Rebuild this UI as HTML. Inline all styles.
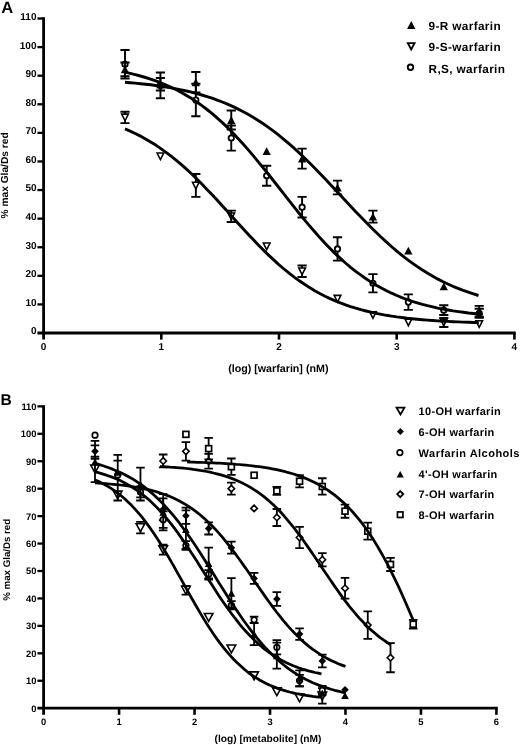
<!DOCTYPE html>
<html><head><meta charset="utf-8"><title>Figure</title>
<style>html,body{margin:0;padding:0;background:#fff;}svg{display:block;}text{font-family:"Liberation Sans",sans-serif;font-weight:bold;fill:#000;text-rendering:geometricPrecision;}</style></head><body>
<svg width="520" height="745" viewBox="0 0 520 745" style="will-change:transform">
<defs><filter id="soft" x="0" y="0" width="520" height="745" filterUnits="userSpaceOnUse"><feGaussianBlur stdDeviation="0.38"/></filter></defs>
<rect width="520" height="745" fill="#fff"/>
<g filter="url(#soft)">
<line x1="43.60" y1="17.36" x2="43.60" y2="339.60" stroke="#000" stroke-width="2.8"/>
<line x1="37.40" y1="333.00" x2="515.75" y2="333.00" stroke="#000" stroke-width="2.8"/>
<text x="36.50" y="334.40" text-anchor="end" style="font-size:10.0px">0</text>
<line x1="37.40" y1="304.41" x2="43.60" y2="304.41" stroke="#000" stroke-width="2.3"/>
<text x="36.50" y="305.81" text-anchor="end" style="font-size:10.0px">10</text>
<line x1="37.40" y1="275.82" x2="43.60" y2="275.82" stroke="#000" stroke-width="2.3"/>
<text x="36.50" y="277.22" text-anchor="end" style="font-size:10.0px">20</text>
<line x1="37.40" y1="247.23" x2="43.60" y2="247.23" stroke="#000" stroke-width="2.3"/>
<text x="36.50" y="248.63" text-anchor="end" style="font-size:10.0px">30</text>
<line x1="37.40" y1="218.64" x2="43.60" y2="218.64" stroke="#000" stroke-width="2.3"/>
<text x="36.50" y="220.04" text-anchor="end" style="font-size:10.0px">40</text>
<line x1="37.40" y1="190.05" x2="43.60" y2="190.05" stroke="#000" stroke-width="2.3"/>
<text x="36.50" y="191.45" text-anchor="end" style="font-size:10.0px">50</text>
<line x1="37.40" y1="161.46" x2="43.60" y2="161.46" stroke="#000" stroke-width="2.3"/>
<text x="36.50" y="162.86" text-anchor="end" style="font-size:10.0px">60</text>
<line x1="37.40" y1="132.87" x2="43.60" y2="132.87" stroke="#000" stroke-width="2.3"/>
<text x="36.50" y="134.27" text-anchor="end" style="font-size:10.0px">70</text>
<line x1="37.40" y1="104.28" x2="43.60" y2="104.28" stroke="#000" stroke-width="2.3"/>
<text x="36.50" y="105.68" text-anchor="end" style="font-size:10.0px">80</text>
<line x1="37.40" y1="75.69" x2="43.60" y2="75.69" stroke="#000" stroke-width="2.3"/>
<text x="36.50" y="77.09" text-anchor="end" style="font-size:10.0px">90</text>
<line x1="37.40" y1="47.10" x2="43.60" y2="47.10" stroke="#000" stroke-width="2.3"/>
<text x="36.50" y="48.50" text-anchor="end" style="font-size:10.0px">100</text>
<line x1="37.40" y1="18.51" x2="43.60" y2="18.51" stroke="#000" stroke-width="2.3"/>
<text x="36.50" y="19.91" text-anchor="end" style="font-size:10.0px">110</text>
<text x="43.60" y="350.00" text-anchor="middle" style="font-size:10.0px">0</text>
<line x1="161.30" y1="333.00" x2="161.30" y2="339.60" stroke="#000" stroke-width="2.5999999999999996"/>
<text x="161.30" y="350.00" text-anchor="middle" style="font-size:10.0px">1</text>
<line x1="279.00" y1="333.00" x2="279.00" y2="339.60" stroke="#000" stroke-width="2.5999999999999996"/>
<text x="279.00" y="350.00" text-anchor="middle" style="font-size:10.0px">2</text>
<line x1="396.70" y1="333.00" x2="396.70" y2="339.60" stroke="#000" stroke-width="2.5999999999999996"/>
<text x="396.70" y="350.00" text-anchor="middle" style="font-size:10.0px">3</text>
<line x1="514.40" y1="333.00" x2="514.40" y2="339.60" stroke="#000" stroke-width="2.5999999999999996"/>
<text x="514.40" y="350.00" text-anchor="middle" style="font-size:10.0px">4</text>
<text x="278.30" y="372.20" text-anchor="middle" style="font-size:10.7px">(log) [warfarin] (nM)</text>
<text transform="translate(8.3,175.40) rotate(-90)" text-anchor="middle" style="font-size:10.2px">% max Gla/Ds red</text>
<text x="1.3" y="13.10" style="font-size:16.5px">A</text>
<path d="M125.00,49.96V78.55M120.40,49.96H129.60M120.40,78.55H129.60" stroke="#000" stroke-width="1.9" fill="none"/>
<path d="M160.42,72.55V98.28M155.82,72.55H165.02M155.82,98.28H165.02" stroke="#000" stroke-width="1.9" fill="none"/>
<path d="M195.84,83.70V116.29M191.24,83.70H200.44M191.24,116.29H200.44" stroke="#000" stroke-width="1.9" fill="none"/>
<path d="M231.26,125.44V150.60M226.66,125.44H235.86M226.66,150.60H235.86" stroke="#000" stroke-width="1.9" fill="none"/>
<path d="M266.68,165.75V185.76M262.08,165.75H271.28M262.08,185.76H271.28" stroke="#000" stroke-width="1.9" fill="none"/>
<path d="M302.10,196.91V217.50M297.50,196.91H306.70M297.50,217.50H306.70" stroke="#000" stroke-width="1.9" fill="none"/>
<path d="M337.52,237.22V260.67M332.92,237.22H342.12M332.92,260.67H342.12" stroke="#000" stroke-width="1.9" fill="none"/>
<path d="M372.94,274.10V292.40M368.34,274.10H377.54M368.34,292.40H377.54" stroke="#000" stroke-width="1.9" fill="none"/>
<path d="M408.36,294.40V309.84M403.76,294.40H412.96M403.76,309.84H412.96" stroke="#000" stroke-width="1.9" fill="none"/>
<path d="M443.78,305.27V314.99M439.18,305.27H448.38M439.18,314.99H448.38" stroke="#000" stroke-width="1.9" fill="none"/>
<path d="M479.20,308.70V317.85M474.60,308.70H483.80M474.60,317.85H483.80" stroke="#000" stroke-width="1.9" fill="none"/>
<circle cx="125.00" cy="64.25" r="2.70" fill="#fff" stroke="#000" stroke-width="1.8"/>
<circle cx="160.42" cy="85.41" r="2.70" fill="#fff" stroke="#000" stroke-width="1.8"/>
<circle cx="195.84" cy="99.99" r="2.70" fill="#fff" stroke="#000" stroke-width="1.8"/>
<circle cx="231.26" cy="138.02" r="2.70" fill="#fff" stroke="#000" stroke-width="1.8"/>
<circle cx="266.68" cy="175.75" r="2.70" fill="#fff" stroke="#000" stroke-width="1.8"/>
<circle cx="302.10" cy="207.20" r="2.70" fill="#fff" stroke="#000" stroke-width="1.8"/>
<circle cx="337.52" cy="248.95" r="2.70" fill="#fff" stroke="#000" stroke-width="1.8"/>
<circle cx="372.94" cy="283.25" r="2.70" fill="#fff" stroke="#000" stroke-width="1.8"/>
<circle cx="408.36" cy="302.12" r="2.70" fill="#fff" stroke="#000" stroke-width="1.8"/>
<circle cx="443.78" cy="310.13" r="2.70" fill="#fff" stroke="#000" stroke-width="1.8"/>
<circle cx="479.20" cy="313.27" r="2.70" fill="#fff" stroke="#000" stroke-width="1.8"/>
<path d="M125.00,111.71V123.15M120.40,111.71H129.60M120.40,123.15H129.60" stroke="#000" stroke-width="1.9" fill="none"/>
<path d="M195.84,174.04V196.91M191.24,174.04H200.44M191.24,196.91H200.44" stroke="#000" stroke-width="1.9" fill="none"/>
<path d="M231.26,210.63V222.07M226.66,210.63H235.86M226.66,222.07H235.86" stroke="#000" stroke-width="1.9" fill="none"/>
<path d="M302.10,265.53V276.96M297.50,265.53H306.70M297.50,276.96H306.70" stroke="#000" stroke-width="1.9" fill="none"/>
<path d="M443.78,317.85V327.00M439.18,317.85H448.38M439.18,327.00H448.38" stroke="#000" stroke-width="1.9" fill="none"/>
<polygon points="121.65,114.13 128.35,114.13 125.00,120.73" fill="#fff" stroke="#000" stroke-width="1.55"/>
<polygon points="157.07,153.01 163.77,153.01 160.42,159.61" fill="#fff" stroke="#000" stroke-width="1.55"/>
<polygon points="192.49,182.18 199.19,182.18 195.84,188.78" fill="#fff" stroke="#000" stroke-width="1.55"/>
<polygon points="227.91,213.05 234.61,213.05 231.26,219.65" fill="#fff" stroke="#000" stroke-width="1.55"/>
<polygon points="263.33,243.07 270.03,243.07 266.68,249.67" fill="#fff" stroke="#000" stroke-width="1.55"/>
<polygon points="298.75,267.95 305.45,267.95 302.10,274.55" fill="#fff" stroke="#000" stroke-width="1.55"/>
<polygon points="334.17,295.39 340.87,295.39 337.52,301.99" fill="#fff" stroke="#000" stroke-width="1.55"/>
<polygon points="369.59,311.69 376.29,311.69 372.94,318.29" fill="#fff" stroke="#000" stroke-width="1.55"/>
<polygon points="405.01,319.12 411.71,319.12 408.36,325.72" fill="#fff" stroke="#000" stroke-width="1.55"/>
<polygon points="440.43,319.12 447.13,319.12 443.78,325.72" fill="#fff" stroke="#000" stroke-width="1.55"/>
<polygon points="475.85,320.69 482.55,320.69 479.20,327.29" fill="#fff" stroke="#000" stroke-width="1.55"/>
<path d="M125.00,62.54V76.26M120.40,62.54H129.60M120.40,76.26H129.60" stroke="#000" stroke-width="1.9" fill="none"/>
<path d="M160.42,77.98V90.56M155.82,77.98H165.02M155.82,90.56H165.02" stroke="#000" stroke-width="1.9" fill="none"/>
<path d="M195.84,71.97V92.56M191.24,71.97H200.44M191.24,92.56H200.44" stroke="#000" stroke-width="1.9" fill="none"/>
<path d="M231.26,110.57V129.44M226.66,110.57H235.86M226.66,129.44H235.86" stroke="#000" stroke-width="1.9" fill="none"/>
<path d="M302.10,148.59V168.61M297.50,148.59H306.70M297.50,168.61H306.70" stroke="#000" stroke-width="1.9" fill="none"/>
<path d="M337.52,180.62V194.34M332.92,180.62H342.12M332.92,194.34H342.12" stroke="#000" stroke-width="1.9" fill="none"/>
<path d="M372.94,210.63V222.64M368.34,210.63H377.54M368.34,222.64H377.54" stroke="#000" stroke-width="1.9" fill="none"/>
<path d="M479.20,305.84V316.70M474.60,305.84H483.80M474.60,316.70H483.80" stroke="#000" stroke-width="1.9" fill="none"/>
<polygon points="120.85,73.35 129.15,73.35 125.00,65.45" fill="#000"/>
<polygon points="156.27,88.22 164.57,88.22 160.42,80.32" fill="#000"/>
<polygon points="191.69,86.22 199.99,86.22 195.84,78.32" fill="#000"/>
<polygon points="227.11,123.95 235.41,123.95 231.26,116.05" fill="#000"/>
<polygon points="262.53,155.12 270.83,155.12 266.68,147.22" fill="#000"/>
<polygon points="297.95,162.55 306.25,162.55 302.10,154.65" fill="#000"/>
<polygon points="333.37,191.43 341.67,191.43 337.52,183.53" fill="#000"/>
<polygon points="368.79,220.59 377.09,220.59 372.94,212.69" fill="#000"/>
<polygon points="404.21,254.61 412.51,254.61 408.36,246.71" fill="#000"/>
<polygon points="439.63,290.35 447.93,290.35 443.78,282.45" fill="#000"/>
<polygon points="475.05,315.22 483.35,315.22 479.20,307.32" fill="#000"/>
<polyline points="125.0,82.2 130.1,82.7 135.2,83.1 140.4,83.7 145.5,84.2 150.6,84.8 155.7,85.5 160.9,86.2 166.0,87.0 171.1,87.9 176.2,88.9 181.4,89.9 186.5,91.0 191.6,92.2 196.7,93.6 201.8,95.0 207.0,96.6 212.1,98.2 217.2,100.1 222.3,102.0 227.5,104.2 232.6,106.4 237.7,108.9 242.8,111.5 248.0,114.3 253.1,117.3 258.2,120.5 263.3,123.8 268.4,127.4 273.6,131.2 278.7,135.2 283.8,139.3 288.9,143.7 294.1,148.2 299.2,152.9 304.3,157.8 309.4,162.8 314.6,168.0 319.7,173.2 324.8,178.6 329.9,184.0 335.1,189.5 340.2,195.0 345.3,200.5 350.4,206.0 355.5,211.5 360.7,216.8 365.8,222.1 370.9,227.3 376.0,232.3 381.2,237.2 386.3,241.9 391.4,246.5 396.5,250.9 401.7,255.1 406.8,259.1 411.9,262.8 417.0,266.4 422.1,269.8 427.3,273.0 432.4,276.0 437.5,278.9 442.6,281.5 447.8,284.0 452.9,286.3 458.0,288.4 463.1,290.4 468.3,292.2 473.4,293.9 478.5,295.5" fill="none" stroke="#000" stroke-width="2.9" stroke-linejoin="round"/>
<polyline points="125.0,72.2 130.1,73.3 135.3,74.6 140.4,76.0 145.5,77.5 150.6,79.1 155.8,80.9 160.9,82.9 166.0,85.0 171.1,87.3 176.3,89.8 181.4,92.5 186.5,95.5 191.7,98.6 196.8,102.0 201.9,105.7 207.0,109.5 212.2,113.7 217.3,118.1 222.4,122.7 227.6,127.6 232.7,132.8 237.8,138.2 242.9,143.8 248.1,149.6 253.2,155.6 258.3,161.8 263.4,168.1 268.6,174.5 273.7,181.0 278.8,187.5 284.0,194.1 289.1,200.6 294.2,207.1 299.3,213.5 304.5,219.8 309.6,225.9 314.7,231.8 319.8,237.6 325.0,243.2 330.1,248.5 335.2,253.6 340.4,258.4 345.5,263.0 350.6,267.3 355.7,271.4 360.9,275.2 366.0,278.8 371.1,282.1 376.2,285.2 381.4,288.1 386.5,290.8 391.6,293.2 396.8,295.5 401.9,297.6 407.0,299.5 412.1,301.3 417.3,302.9 422.4,304.4 427.5,305.7 432.7,306.9 437.8,308.1 442.9,309.1 448.0,310.0 453.2,310.9 458.3,311.6 463.4,312.3 468.5,313.0 473.7,313.5 478.8,314.1" fill="none" stroke="#000" stroke-width="2.9" stroke-linejoin="round"/>
<polyline points="125.0,128.9 130.1,131.1 135.3,133.5 140.4,136.1 145.5,138.9 150.6,141.9 155.8,145.1 160.9,148.6 166.0,152.3 171.1,156.2 176.3,160.3 181.4,164.6 186.5,169.2 191.7,174.0 196.8,178.9 201.9,184.1 207.0,189.4 212.2,194.8 217.3,200.3 222.4,205.9 227.6,211.6 232.7,217.3 237.8,223.0 242.9,228.6 248.1,234.2 253.2,239.6 258.3,244.9 263.4,250.1 268.6,255.1 273.7,259.9 278.8,264.6 284.0,269.0 289.1,273.2 294.2,277.1 299.3,280.8 304.5,284.3 309.6,287.6 314.7,290.7 319.8,293.5 325.0,296.2 330.1,298.6 335.2,300.8 340.4,302.9 345.5,304.8 350.6,306.6 355.7,308.2 360.9,309.7 366.0,311.0 371.1,312.2 376.2,313.3 381.4,314.3 386.5,315.3 391.6,316.1 396.8,316.9 401.9,317.5 407.0,318.2 412.1,318.7 417.3,319.2 422.4,319.7 427.5,320.1 432.7,320.5 437.8,320.9 442.9,321.2 448.0,321.4 453.2,321.7 458.3,321.9 463.4,322.1 468.5,322.3 473.7,322.5 478.8,322.6" fill="none" stroke="#000" stroke-width="2.9" stroke-linejoin="round"/>
<polygon points="407.10,28.95 415.40,28.95 411.25,21.05" fill="#000"/>
<text x="428.60" y="29.50" style="font-size:11.8px;letter-spacing:0.35px">9-R warfarin</text>
<polygon points="407.90,43.15 414.50,43.15 411.20,49.45" fill="#fff" stroke="#000" stroke-width="1.9"/>
<text x="428.60" y="51.00" style="font-size:11.8px;letter-spacing:0.35px">9-S-warfarin</text>
<circle cx="410.50" cy="67.30" r="2.75" fill="#fff" stroke="#000" stroke-width="1.9"/>
<text x="428.60" y="72.50" style="font-size:11.8px;letter-spacing:0.35px">R,S, warfarin</text>
<line x1="43.60" y1="405.21" x2="43.60" y2="714.80" stroke="#000" stroke-width="2.8"/>
<line x1="37.40" y1="708.20" x2="497.77" y2="708.20" stroke="#000" stroke-width="2.8"/>
<text x="36.50" y="711.60" text-anchor="end" style="font-size:9.4px">0</text>
<line x1="37.40" y1="680.76" x2="43.60" y2="680.76" stroke="#000" stroke-width="2.3"/>
<text x="36.50" y="684.16" text-anchor="end" style="font-size:9.4px">10</text>
<line x1="37.40" y1="653.32" x2="43.60" y2="653.32" stroke="#000" stroke-width="2.3"/>
<text x="36.50" y="656.72" text-anchor="end" style="font-size:9.4px">20</text>
<line x1="37.40" y1="625.88" x2="43.60" y2="625.88" stroke="#000" stroke-width="2.3"/>
<text x="36.50" y="629.28" text-anchor="end" style="font-size:9.4px">30</text>
<line x1="37.40" y1="598.44" x2="43.60" y2="598.44" stroke="#000" stroke-width="2.3"/>
<text x="36.50" y="601.84" text-anchor="end" style="font-size:9.4px">40</text>
<line x1="37.40" y1="571.00" x2="43.60" y2="571.00" stroke="#000" stroke-width="2.3"/>
<text x="36.50" y="574.40" text-anchor="end" style="font-size:9.4px">50</text>
<line x1="37.40" y1="543.56" x2="43.60" y2="543.56" stroke="#000" stroke-width="2.3"/>
<text x="36.50" y="546.96" text-anchor="end" style="font-size:9.4px">60</text>
<line x1="37.40" y1="516.12" x2="43.60" y2="516.12" stroke="#000" stroke-width="2.3"/>
<text x="36.50" y="519.52" text-anchor="end" style="font-size:9.4px">70</text>
<line x1="37.40" y1="488.68" x2="43.60" y2="488.68" stroke="#000" stroke-width="2.3"/>
<text x="36.50" y="492.08" text-anchor="end" style="font-size:9.4px">80</text>
<line x1="37.40" y1="461.24" x2="43.60" y2="461.24" stroke="#000" stroke-width="2.3"/>
<text x="36.50" y="464.64" text-anchor="end" style="font-size:9.4px">90</text>
<line x1="37.40" y1="433.80" x2="43.60" y2="433.80" stroke="#000" stroke-width="2.3"/>
<text x="36.50" y="437.20" text-anchor="end" style="font-size:9.4px">100</text>
<line x1="37.40" y1="406.36" x2="43.60" y2="406.36" stroke="#000" stroke-width="2.3"/>
<text x="36.50" y="409.76" text-anchor="end" style="font-size:9.4px">110</text>
<text x="43.60" y="724.60" text-anchor="middle" style="font-size:9.4px">0</text>
<line x1="119.07" y1="708.20" x2="119.07" y2="714.80" stroke="#000" stroke-width="2.5999999999999996"/>
<text x="119.07" y="724.60" text-anchor="middle" style="font-size:9.4px">1</text>
<line x1="194.54" y1="708.20" x2="194.54" y2="714.80" stroke="#000" stroke-width="2.5999999999999996"/>
<text x="194.54" y="724.60" text-anchor="middle" style="font-size:9.4px">2</text>
<line x1="270.01" y1="708.20" x2="270.01" y2="714.80" stroke="#000" stroke-width="2.5999999999999996"/>
<text x="270.01" y="724.60" text-anchor="middle" style="font-size:9.4px">3</text>
<line x1="345.48" y1="708.20" x2="345.48" y2="714.80" stroke="#000" stroke-width="2.5999999999999996"/>
<text x="345.48" y="724.60" text-anchor="middle" style="font-size:9.4px">4</text>
<line x1="420.95" y1="708.20" x2="420.95" y2="714.80" stroke="#000" stroke-width="2.5999999999999996"/>
<text x="420.95" y="724.60" text-anchor="middle" style="font-size:9.4px">5</text>
<line x1="496.42" y1="708.20" x2="496.42" y2="714.80" stroke="#000" stroke-width="2.5999999999999996"/>
<text x="496.42" y="724.60" text-anchor="middle" style="font-size:9.4px">6</text>
<text x="268.00" y="741.90" text-anchor="middle" style="font-size:10.2px">(log) [metabolite] (nM)</text>
<text transform="translate(9.6,559.80) rotate(-90)" text-anchor="middle" style="font-size:9.7px">% max Gla/Ds red</text>
<text x="0.4" y="404.80" style="font-size:15.6px">B</text>
<path d="M140.46,521.88V533.41M136.16,521.88H144.76M136.16,533.41H144.76" stroke="#000" stroke-width="1.8" fill="none"/>
<path d="M163.19,544.66V554.54M158.89,544.66H167.49M158.89,554.54H167.49" stroke="#000" stroke-width="1.8" fill="none"/>
<path d="M185.92,585.82V594.60M181.62,585.82H190.22M181.62,594.60H190.22" stroke="#000" stroke-width="1.8" fill="none"/>
<path d="M322.30,688.17V703.54M318.00,688.17H326.60M318.00,703.54H326.60" stroke="#000" stroke-width="1.8" fill="none"/>
<polygon points="90.70,465.02 99.30,465.02 95.00,472.82" fill="#fff" stroke="#000" stroke-width="1.6"/>
<polygon points="113.43,491.09 122.03,491.09 117.73,498.89" fill="#fff" stroke="#000" stroke-width="1.6"/>
<polygon points="136.16,523.74 144.76,523.74 140.46,531.54" fill="#fff" stroke="#000" stroke-width="1.6"/>
<polygon points="158.89,545.70 167.49,545.70 163.19,553.50" fill="#fff" stroke="#000" stroke-width="1.6"/>
<polygon points="181.62,586.31 190.22,586.31 185.92,594.11" fill="#fff" stroke="#000" stroke-width="1.6"/>
<polygon points="204.35,613.47 212.95,613.47 208.65,621.27" fill="#fff" stroke="#000" stroke-width="1.6"/>
<polygon points="227.08,645.03 235.68,645.03 231.38,652.83" fill="#fff" stroke="#000" stroke-width="1.6"/>
<polygon points="249.81,671.92 258.41,671.92 254.11,679.72" fill="#fff" stroke="#000" stroke-width="1.6"/>
<polygon points="272.54,687.84 281.14,687.84 276.84,695.64" fill="#fff" stroke="#000" stroke-width="1.6"/>
<polygon points="295.27,694.15 303.87,694.15 299.57,701.95" fill="#fff" stroke="#000" stroke-width="1.6"/>
<polygon points="318.00,691.95 326.60,691.95 322.30,699.75" fill="#fff" stroke="#000" stroke-width="1.6"/>
<path d="M95.00,440.93V482.09M90.70,440.93H99.30M90.70,445.32H99.30M90.70,456.58H99.30M90.70,458.77H99.30M90.70,482.09H99.30" stroke="#000" stroke-width="1.8" fill="none"/>
<path d="M117.73,454.93V500.48M113.43,454.93H122.03M113.43,460.69H122.03M113.43,500.48H122.03" stroke="#000" stroke-width="1.8" fill="none"/>
<path d="M163.19,498.28V520.24M158.89,498.28H167.49M158.89,520.24H167.49" stroke="#000" stroke-width="1.8" fill="none"/>
<path d="M185.92,507.61V523.80M181.62,507.61H190.22M181.62,523.80H190.22" stroke="#000" stroke-width="1.8" fill="none"/>
<path d="M208.65,522.43V534.50M204.35,522.43H212.95M204.35,534.50H212.95" stroke="#000" stroke-width="1.8" fill="none"/>
<path d="M231.38,541.64V553.71M227.08,541.64H235.68M227.08,553.71H235.68" stroke="#000" stroke-width="1.8" fill="none"/>
<path d="M254.11,572.92V583.90M249.81,572.92H258.41M249.81,583.90H258.41" stroke="#000" stroke-width="1.8" fill="none"/>
<path d="M276.84,592.13V605.85M272.54,592.13H281.14M272.54,605.85H281.14" stroke="#000" stroke-width="1.8" fill="none"/>
<path d="M299.57,628.35V639.87M295.27,628.35H303.87M295.27,639.87H303.87" stroke="#000" stroke-width="1.8" fill="none"/>
<path d="M322.30,654.69V667.31M318.00,654.69H326.60M318.00,667.31H326.60" stroke="#000" stroke-width="1.8" fill="none"/>
<polygon points="91.20,451.36 95.00,447.56 98.80,451.36 95.00,455.16" fill="#000"/>
<polygon points="113.93,474.96 117.73,471.16 121.53,474.96 117.73,478.76" fill="#000"/>
<polygon points="136.66,487.31 140.46,483.51 144.26,487.31 140.46,491.11" fill="#000"/>
<polygon points="159.39,509.26 163.19,505.46 166.99,509.26 163.19,513.06" fill="#000"/>
<polygon points="182.12,515.71 185.92,511.91 189.72,515.71 185.92,519.51" fill="#000"/>
<polygon points="204.85,528.47 208.65,524.67 212.45,528.47 208.65,532.27" fill="#000"/>
<polygon points="227.58,547.68 231.38,543.88 235.18,547.68 231.38,551.48" fill="#000"/>
<polygon points="250.31,578.41 254.11,574.61 257.91,578.41 254.11,582.21" fill="#000"/>
<polygon points="273.04,598.99 276.84,595.19 280.64,598.99 276.84,602.79" fill="#000"/>
<polygon points="295.77,634.11 299.57,630.31 303.37,634.11 299.57,637.91" fill="#000"/>
<polygon points="318.50,661.00 322.30,657.20 326.10,661.00 322.30,664.80" fill="#000"/>
<polygon points="341.23,689.82 345.03,686.02 348.83,689.82 345.03,693.62" fill="#000"/>
<path d="M140.46,486.48V497.46M136.16,486.48H144.76M136.16,497.46H144.76" stroke="#000" stroke-width="1.8" fill="none"/>
<path d="M163.19,511.46V527.92M158.89,511.46H167.49M158.89,527.92H167.49" stroke="#000" stroke-width="1.8" fill="none"/>
<path d="M185.92,541.09V549.87M181.62,541.09H190.22M181.62,549.87H190.22" stroke="#000" stroke-width="1.8" fill="none"/>
<path d="M208.65,570.18V578.41M204.35,570.18H212.95M204.35,578.41H212.95" stroke="#000" stroke-width="1.8" fill="none"/>
<path d="M231.38,601.18V609.42M227.08,601.18H235.68M227.08,609.42H235.68" stroke="#000" stroke-width="1.8" fill="none"/>
<path d="M254.11,616.55V623.14M249.81,616.55H258.41M249.81,623.14H258.41" stroke="#000" stroke-width="1.8" fill="none"/>
<path d="M276.84,640.15V654.42M272.54,640.15H281.14M272.54,654.42H281.14" stroke="#000" stroke-width="1.8" fill="none"/>
<path d="M299.57,674.86V686.39M295.27,674.86H303.87M295.27,686.39H303.87" stroke="#000" stroke-width="1.8" fill="none"/>
<path d="M322.30,685.97V694.75M318.00,685.97H326.60M318.00,694.75H326.60" stroke="#000" stroke-width="1.8" fill="none"/>
<circle cx="95.00" cy="435.17" r="2.75" fill="#fff" stroke="#000" stroke-width="1.7"/>
<circle cx="117.73" cy="474.96" r="2.75" fill="#fff" stroke="#000" stroke-width="1.7"/>
<circle cx="140.46" cy="491.97" r="2.75" fill="#fff" stroke="#000" stroke-width="1.7"/>
<circle cx="163.19" cy="519.69" r="2.75" fill="#fff" stroke="#000" stroke-width="1.7"/>
<circle cx="185.92" cy="545.48" r="2.75" fill="#fff" stroke="#000" stroke-width="1.7"/>
<circle cx="208.65" cy="574.29" r="2.75" fill="#fff" stroke="#000" stroke-width="1.7"/>
<circle cx="231.38" cy="605.30" r="2.75" fill="#fff" stroke="#000" stroke-width="1.7"/>
<circle cx="254.11" cy="619.84" r="2.75" fill="#fff" stroke="#000" stroke-width="1.7"/>
<circle cx="276.84" cy="647.28" r="2.75" fill="#fff" stroke="#000" stroke-width="1.7"/>
<circle cx="299.57" cy="680.62" r="2.75" fill="#fff" stroke="#000" stroke-width="1.7"/>
<circle cx="322.30" cy="690.36" r="2.75" fill="#fff" stroke="#000" stroke-width="1.7"/>
<path d="M140.46,467.55V500.48M136.16,467.55H144.76M136.16,500.48H144.76" stroke="#000" stroke-width="1.8" fill="none"/>
<path d="M163.19,494.17V530.39M158.89,494.17H167.49M158.89,530.39H167.49" stroke="#000" stroke-width="1.8" fill="none"/>
<path d="M185.92,510.36V548.77M181.62,510.36H190.22M181.62,548.77H190.22" stroke="#000" stroke-width="1.8" fill="none"/>
<path d="M208.65,547.68V579.51M204.35,547.68H212.95M204.35,579.51H212.95" stroke="#000" stroke-width="1.8" fill="none"/>
<path d="M231.38,578.13V608.32M227.08,578.13H235.68M227.08,608.32H235.68" stroke="#000" stroke-width="1.8" fill="none"/>
<path d="M254.11,623.14V645.09M249.81,623.14H258.41M249.81,645.09H258.41" stroke="#000" stroke-width="1.8" fill="none"/>
<path d="M276.84,642.62V668.69M272.54,642.62H281.14M272.54,668.69H281.14" stroke="#000" stroke-width="1.8" fill="none"/>
<path d="M299.57,670.33V686.25M295.27,670.33H303.87M295.27,686.25H303.87" stroke="#000" stroke-width="1.8" fill="none"/>
<polygon points="91.20,465.29 98.80,465.29 95.00,458.29" fill="#000"/>
<polygon points="113.93,475.72 121.53,475.72 117.73,468.72" fill="#000"/>
<polygon points="136.66,487.52 144.26,487.52 140.46,480.52" fill="#000"/>
<polygon points="159.39,515.78 166.99,515.78 163.19,508.78" fill="#000"/>
<polygon points="182.12,533.07 189.72,533.07 185.92,526.07" fill="#000"/>
<polygon points="204.85,567.09 212.45,567.09 208.65,560.09" fill="#000"/>
<polygon points="227.58,596.73 235.18,596.73 231.38,589.73" fill="#000"/>
<polygon points="250.31,637.61 257.91,637.61 254.11,630.61" fill="#000"/>
<polygon points="273.04,659.15 280.64,659.15 276.84,652.15" fill="#000"/>
<polygon points="295.77,681.79 303.37,681.79 299.57,674.79" fill="#000"/>
<polygon points="318.50,696.61 326.10,696.61 322.30,689.61" fill="#000"/>
<polygon points="341.23,699.08 348.83,699.08 345.03,692.08" fill="#000"/>
<path d="M163.19,454.52V467.41M158.89,454.52H167.49M158.89,467.41H167.49" stroke="#000" stroke-width="1.8" fill="none"/>
<path d="M185.92,442.03V460.69M181.62,442.03H190.22M181.62,460.69H190.22" stroke="#000" stroke-width="1.8" fill="none"/>
<path d="M208.65,453.83V468.65M204.35,453.83H212.95M204.35,468.65H212.95" stroke="#000" stroke-width="1.8" fill="none"/>
<path d="M231.38,482.64V494.72M227.08,482.64H235.68M227.08,494.72H235.68" stroke="#000" stroke-width="1.8" fill="none"/>
<path d="M276.84,508.99V526.00M272.54,508.99H281.14M272.54,526.00H281.14" stroke="#000" stroke-width="1.8" fill="none"/>
<path d="M299.57,526.82V548.22M295.27,526.82H303.87M295.27,548.22H303.87" stroke="#000" stroke-width="1.8" fill="none"/>
<path d="M322.30,553.16V566.34M318.00,553.16H326.60M318.00,566.34H326.60" stroke="#000" stroke-width="1.8" fill="none"/>
<path d="M345.03,577.86V598.71M340.73,577.86H349.33M340.73,598.71H349.33" stroke="#000" stroke-width="1.8" fill="none"/>
<path d="M367.76,611.34V638.78M363.46,611.34H372.06M363.46,638.78H372.06" stroke="#000" stroke-width="1.8" fill="none"/>
<path d="M390.49,643.17V672.25M386.19,643.17H394.79M386.19,672.25H394.79" stroke="#000" stroke-width="1.8" fill="none"/>
<polygon points="159.94,460.97 163.19,457.72 166.44,460.97 163.19,464.22" fill="#fff" stroke="#000" stroke-width="1.6"/>
<polygon points="182.67,451.36 185.92,448.11 189.17,451.36 185.92,454.61" fill="#fff" stroke="#000" stroke-width="1.6"/>
<polygon points="205.40,461.24 208.65,457.99 211.90,461.24 208.65,464.49" fill="#fff" stroke="#000" stroke-width="1.6"/>
<polygon points="228.13,488.68 231.38,485.43 234.63,488.68 231.38,491.93" fill="#fff" stroke="#000" stroke-width="1.6"/>
<polygon points="250.86,508.44 254.11,505.19 257.36,508.44 254.11,511.69" fill="#fff" stroke="#000" stroke-width="1.6"/>
<polygon points="273.59,517.49 276.84,514.24 280.09,517.49 276.84,520.74" fill="#fff" stroke="#000" stroke-width="1.6"/>
<polygon points="296.32,537.52 299.57,534.27 302.82,537.52 299.57,540.77" fill="#fff" stroke="#000" stroke-width="1.6"/>
<polygon points="319.05,559.75 322.30,556.50 325.55,559.75 322.30,563.00" fill="#fff" stroke="#000" stroke-width="1.6"/>
<polygon points="341.78,588.29 345.03,585.04 348.28,588.29 345.03,591.54" fill="#fff" stroke="#000" stroke-width="1.6"/>
<polygon points="364.51,625.06 367.76,621.81 371.01,625.06 367.76,628.31" fill="#fff" stroke="#000" stroke-width="1.6"/>
<polygon points="387.24,657.71 390.49,654.46 393.74,657.71 390.49,660.96" fill="#fff" stroke="#000" stroke-width="1.6"/>
<path d="M208.65,437.92V459.32M204.35,437.92H212.95M204.35,459.32H212.95" stroke="#000" stroke-width="1.8" fill="none"/>
<path d="M231.38,458.50V474.96M227.08,458.50H235.68M227.08,474.96H235.68" stroke="#000" stroke-width="1.8" fill="none"/>
<path d="M276.84,486.90V494.85M272.54,486.90H281.14M272.54,494.85H281.14" stroke="#000" stroke-width="1.8" fill="none"/>
<path d="M299.57,475.23V487.31M295.27,475.23H303.87M295.27,487.31H303.87" stroke="#000" stroke-width="1.8" fill="none"/>
<path d="M322.30,478.25V494.72M318.00,478.25H326.60M318.00,494.72H326.60" stroke="#000" stroke-width="1.8" fill="none"/>
<path d="M345.03,504.60V517.77M340.73,504.60H349.33M340.73,517.77H349.33" stroke="#000" stroke-width="1.8" fill="none"/>
<path d="M367.76,522.71V539.72M363.46,522.71H372.06M363.46,539.72H372.06" stroke="#000" stroke-width="1.8" fill="none"/>
<path d="M390.49,557.83V571.00M386.19,557.83H394.79M386.19,571.00H394.79" stroke="#000" stroke-width="1.8" fill="none"/>
<path d="M413.22,619.84V628.62M408.92,619.84H417.52M408.92,628.62H417.52" stroke="#000" stroke-width="1.8" fill="none"/>
<rect x="182.97" y="431.40" width="5.90" height="5.90" fill="#fff" stroke="#000" stroke-width="1.7"/>
<rect x="205.70" y="445.67" width="5.90" height="5.90" fill="#fff" stroke="#000" stroke-width="1.7"/>
<rect x="228.43" y="463.78" width="5.90" height="5.90" fill="#fff" stroke="#000" stroke-width="1.7"/>
<rect x="251.16" y="472.28" width="5.90" height="5.90" fill="#fff" stroke="#000" stroke-width="1.7"/>
<rect x="273.89" y="487.93" width="5.90" height="5.90" fill="#fff" stroke="#000" stroke-width="1.7"/>
<rect x="296.62" y="478.32" width="5.90" height="5.90" fill="#fff" stroke="#000" stroke-width="1.7"/>
<rect x="319.35" y="483.53" width="5.90" height="5.90" fill="#fff" stroke="#000" stroke-width="1.7"/>
<rect x="342.08" y="508.23" width="5.90" height="5.90" fill="#fff" stroke="#000" stroke-width="1.7"/>
<rect x="364.81" y="528.26" width="5.90" height="5.90" fill="#fff" stroke="#000" stroke-width="1.7"/>
<rect x="387.54" y="561.46" width="5.90" height="5.90" fill="#fff" stroke="#000" stroke-width="1.7"/>
<rect x="410.27" y="621.28" width="5.90" height="5.90" fill="#fff" stroke="#000" stroke-width="1.7"/>
<polyline points="95.0,479.9 98.3,481.3 101.6,482.9 104.9,484.7 108.2,486.6 111.5,488.7 114.8,490.9 118.1,493.4 121.4,496.0 124.7,498.8 128.0,501.9 131.3,505.1 134.6,508.6 137.9,512.3 141.2,516.2 144.5,520.4 147.8,524.8 151.1,529.4 154.4,534.3 157.7,539.3 161.0,544.5 164.3,549.9 167.6,555.5 170.9,561.1 174.2,566.9 177.5,572.8 180.8,578.7 184.1,584.7 187.4,590.6 190.7,596.5 194.0,602.3 197.3,608.0 200.6,613.6 203.9,619.1 207.2,624.4 210.5,629.5 213.8,634.4 217.1,639.1 220.4,643.6 223.7,647.8 227.0,651.8 230.3,655.6 233.6,659.2 236.9,662.5 240.2,665.6 243.5,668.6 246.8,671.3 250.1,673.8 253.4,676.1 256.7,678.2 260.0,680.2 263.3,682.0 266.6,683.7 269.9,685.2 273.2,686.6 276.5,687.9 279.8,689.1 283.1,690.1 286.4,691.1 289.7,692.0 293.0,692.8 296.3,693.6 299.6,694.2 302.9,694.8 306.2,695.4 309.5,695.9 312.8,696.4 316.1,696.8 319.4,697.2 322.7,697.5" fill="none" stroke="#000" stroke-width="2.75" stroke-linejoin="round"/>
<polyline points="95.0,483.0 98.6,483.2 102.3,483.4 105.9,483.7 109.5,484.0 113.2,484.3 116.8,484.6 120.4,485.0 124.0,485.4 127.7,485.9 131.3,486.4 134.9,487.0 138.6,487.6 142.2,488.3 145.8,489.1 149.5,489.9 153.1,490.8 156.7,491.9 160.3,493.0 164.0,494.2 167.6,495.6 171.2,497.1 174.9,498.8 178.5,500.5 182.1,502.5 185.8,504.6 189.4,506.9 193.0,509.4 196.7,512.1 200.3,515.0 203.9,518.1 207.5,521.4 211.2,525.0 214.8,528.7 218.4,532.7 222.1,536.9 225.7,541.3 229.3,545.8 233.0,550.6 236.6,555.5 240.2,560.5 243.8,565.6 247.5,570.8 251.1,576.1 254.7,581.4 258.4,586.7 262.0,591.9 265.6,597.1 269.3,602.2 272.9,607.1 276.5,612.0 280.2,616.6 283.8,621.1 287.4,625.4 291.0,629.4 294.7,633.3 298.3,636.9 301.9,640.4 305.6,643.6 309.2,646.6 312.8,649.4 316.5,651.9 320.1,654.3 323.7,656.5 327.3,658.6 331.0,660.4 334.6,662.1 338.2,663.7 341.9,665.1 345.5,666.4" fill="none" stroke="#000" stroke-width="2.75" stroke-linejoin="round"/>
<polyline points="95.0,471.8 98.3,472.6 101.6,473.6 104.8,474.6 108.1,475.7 111.4,476.9 114.7,478.2 118.0,479.6 121.3,481.1 124.5,482.8 127.8,484.6 131.1,486.5 134.4,488.6 137.7,490.9 141.0,493.3 144.2,495.9 147.5,498.6 150.8,501.6 154.1,504.7 157.4,508.0 160.7,511.5 163.9,515.2 167.2,519.1 170.5,523.2 173.8,527.4 177.1,531.8 180.3,536.4 183.6,541.1 186.9,546.0 190.2,550.9 193.5,555.9 196.8,561.0 200.0,566.2 203.3,571.4 206.6,576.6 209.9,581.7 213.2,586.8 216.5,591.9 219.7,596.9 223.0,601.7 226.3,606.4 229.6,611.0 232.9,615.5 236.2,619.7 239.4,623.8 242.7,627.8 246.0,631.5 249.3,635.0 252.6,638.4 255.8,641.5 259.1,644.5 262.4,647.3 265.7,649.9 269.0,652.3 272.3,654.6 275.5,656.7 278.8,658.7 282.1,660.5 285.4,662.2 288.7,663.8 292.0,665.2 295.2,666.5 298.5,667.8 301.8,668.9 305.1,669.9 308.4,670.9 311.7,671.7 314.9,672.5 318.2,673.2 321.5,673.9" fill="none" stroke="#000" stroke-width="2.75" stroke-linejoin="round"/>
<polyline points="95.0,463.4 98.6,464.4 102.3,465.5 105.9,466.7 109.5,468.0 113.2,469.4 116.8,470.9 120.4,472.5 124.0,474.2 127.7,476.2 131.3,478.2 134.9,480.4 138.6,482.8 142.2,485.4 145.8,488.1 149.5,491.1 153.1,494.2 156.7,497.5 160.3,501.1 164.0,504.8 167.6,508.8 171.2,513.0 174.9,517.3 178.5,521.9 182.1,526.7 185.8,531.7 189.4,536.8 193.0,542.1 196.7,547.5 200.3,553.1 203.9,558.7 207.5,564.5 211.2,570.3 214.8,576.1 218.4,581.9 222.1,587.7 225.7,593.5 229.3,599.2 233.0,604.8 236.6,610.2 240.2,615.6 243.8,620.8 247.5,625.8 251.1,630.6 254.7,635.3 258.4,639.7 262.0,644.0 265.6,648.0 269.3,651.8 272.9,655.4 276.5,658.8 280.2,662.0 283.8,665.0 287.4,667.8 291.0,670.4 294.7,672.9 298.3,675.1 301.9,677.2 305.6,679.2 309.2,681.0 312.8,682.7 316.5,684.2 320.1,685.6 323.7,686.9 327.3,688.1 331.0,689.3 334.6,690.3 338.2,691.2 341.9,692.1 345.5,692.9" fill="none" stroke="#000" stroke-width="2.75" stroke-linejoin="round"/>
<polyline points="160.0,466.5 163.3,466.6 166.7,466.8 170.0,467.1 173.4,467.3 176.7,467.6 180.0,467.9 183.4,468.2 186.7,468.5 190.1,468.9 193.4,469.4 196.7,469.8 200.1,470.4 203.4,470.9 206.8,471.5 210.1,472.2 213.4,473.0 216.8,473.8 220.1,474.7 223.5,475.6 226.8,476.7 230.2,477.9 233.5,479.1 236.8,480.5 240.2,482.0 243.5,483.6 246.9,485.4 250.2,487.2 253.5,489.3 256.9,491.5 260.2,493.9 263.6,496.4 266.9,499.1 270.2,502.0 273.6,505.1 276.9,508.3 280.3,511.8 283.6,515.4 286.9,519.3 290.3,523.3 293.6,527.4 297.0,531.8 300.3,536.2 303.6,540.8 307.0,545.6 310.3,550.4 313.7,555.3 317.0,560.2 320.3,565.2 323.7,570.2 327.0,575.1 330.4,580.1 333.7,584.9 337.1,589.7 340.4,594.4 343.7,598.9 347.1,603.3 350.4,607.6 353.8,611.6 357.1,615.6 360.4,619.3 363.8,622.8 367.1,626.2 370.5,629.4 373.8,632.3 377.1,635.1 380.5,637.8 383.8,640.2 387.2,642.5 390.5,644.6" fill="none" stroke="#000" stroke-width="2.75" stroke-linejoin="round"/>
<polyline points="187.0,462.0 190.3,462.1 193.6,462.2 196.8,462.3 200.1,462.4 203.4,462.5 206.7,462.6 209.9,462.8 213.2,462.9 216.5,463.1 219.8,463.2 223.0,463.4 226.3,463.6 229.6,463.8 232.9,464.0 236.1,464.3 239.4,464.5 242.7,464.8 246.0,465.1 249.2,465.5 252.5,465.9 255.8,466.3 259.1,466.7 262.3,467.2 265.6,467.7 268.9,468.2 272.2,468.8 275.4,469.4 278.7,470.1 282.0,470.9 285.3,471.7 288.5,472.6 291.8,473.5 295.1,474.5 298.4,475.6 301.6,476.8 304.9,478.1 308.2,479.5 311.5,481.0 314.7,482.5 318.0,484.3 321.3,486.1 324.6,488.1 327.8,490.2 331.1,492.5 334.4,494.9 337.7,497.6 340.9,500.4 344.2,503.3 347.5,506.5 350.8,509.9 354.0,513.5 357.3,517.4 360.6,521.4 363.9,525.7 367.1,530.3 370.4,535.1 373.7,540.1 377.0,545.5 380.2,551.0 383.5,556.9 386.8,562.9 390.1,569.3 393.3,575.9 396.6,582.7 399.9,589.7 403.2,597.0 406.4,604.4 409.7,612.0 413.0,619.8" fill="none" stroke="#000" stroke-width="2.75" stroke-linejoin="round"/>
<polygon points="396.60,407.60 404.40,407.60 400.50,414.40" fill="#fff" stroke="#000" stroke-width="1.8"/>
<text x="418.60" y="415.00" style="font-size:11.0px;letter-spacing:0.3px">10-OH warfarin</text>
<polygon points="396.90,431.60 400.40,428.10 403.90,431.60 400.40,435.10" fill="#000"/>
<text x="418.60" y="435.85" style="font-size:11.0px;letter-spacing:0.3px">6-OH warfarin</text>
<circle cx="399.90" cy="452.60" r="2.75" fill="#fff" stroke="#000" stroke-width="1.7"/>
<text x="418.60" y="456.70" style="font-size:11.0px;letter-spacing:0.47px">Warfarin Alcohols</text>
<polygon points="396.60,477.60 403.80,477.60 400.20,471.00" fill="#000"/>
<text x="418.60" y="477.55" style="font-size:11.0px;letter-spacing:0.3px">4'-OH warfarin</text>
<polygon points="397.15,494.10 400.20,491.05 403.25,494.10 400.20,497.15" fill="#fff" stroke="#000" stroke-width="1.8"/>
<text x="418.60" y="498.40" style="font-size:11.0px;letter-spacing:0.3px">7-OH warfarin</text>
<rect x="397.45" y="511.95" width="5.50" height="5.50" fill="#fff" stroke="#000" stroke-width="1.7"/>
<text x="418.60" y="519.25" style="font-size:11.0px;letter-spacing:0.3px">8-OH warfarin</text>
</g>
</svg></body></html>
